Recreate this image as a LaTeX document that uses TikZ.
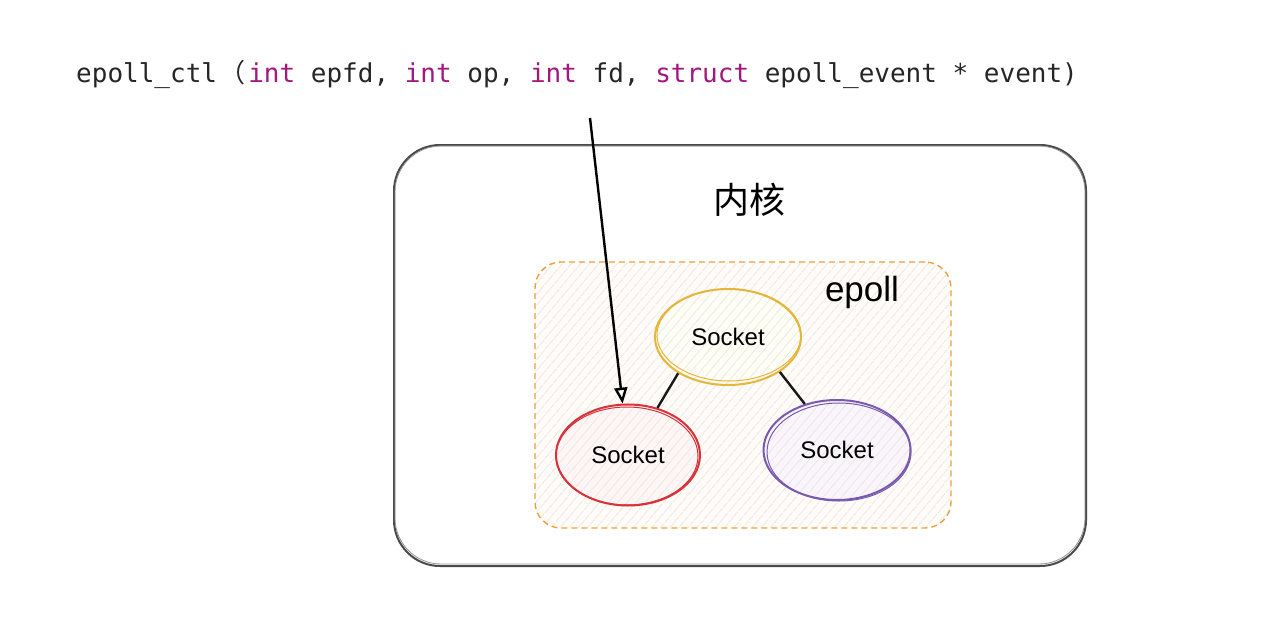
\documentclass[tikz,border=0pt]{standalone}
\usepackage{fontspec}
\setmainfont{Liberation Sans}
\newfontfamily\cjk{Noto Sans CJK SC}
\newfontfamily\codefont{DejaVu Sans Mono}
\usetikzlibrary{arrows.meta,patterns.meta,shapes.geometric}
\definecolor{kw}{HTML}{A3177F}
\definecolor{ylw}{HTML}{E6B53C}
\definecolor{rd}{HTML}{D8323A}
\definecolor{prp}{HTML}{7A5AAE}
\definecolor{org}{HTML}{E9A23F}
\definecolor{frame}{HTML}{4A4A4A}
\tikzset{
  hatch/.style={pattern={Lines[angle=50,distance=7pt,line width=0.6pt]},pattern color=black!10},
  sock/.style={ellipse,draw,line width=2pt,inner sep=0pt,font=\fontsize{24}{28}\selectfont,hatch},
  link/.style={line width=2.4pt,draw=black!90},
}
\begin{document}
\begin{tikzpicture}[x=1pt,y=-1pt]
\useasboundingbox[fill=white] (0,0) rectangle (1274,618);
% code line
\node[anchor=base west,inner sep=0pt,text=black!85,font=\codefont\fontsize{26}{30}\selectfont] (code) at (76,82)
 {epoll\_ctl\makebox[31.2pt][c]{\cjk （}\textcolor{kw}{int} epfd, \textcolor{kw}{int} op, \textcolor{kw}{int} fd, \textcolor{kw}{struct} epoll\_event * event)};
% kernel box
\node[draw=frame,line width=2pt,rounded corners=46pt,minimum width=692pt,minimum height=421pt] (kernel) at (740,355.5) {};
\draw[draw=frame!60,line width=0.8pt,rounded corners=46pt] (395,146) rectangle (1085,564);
\node[font=\cjk\fontsize{36}{40}\selectfont] (kt) at (749,200) {内核};
% epoll box
\node[draw=org,dashed,dash pattern=on 6pt off 4pt,line width=1.4pt,rounded corners=26pt,minimum width=416pt,minimum height=266pt,
      preaction={fill=orange!3},hatch] (epoll) at (743,395) {};
\node[font=\fontsize{35}{40}\selectfont] (et) at (862,292) {epoll};
% sockets
\node[sock,draw=ylw,preaction={fill=yellow!4},minimum width=146pt,minimum height=96pt] (s1) at (728,337) {Socket};
\node[sock,draw=rd,preaction={fill=red!4},minimum width=144pt,minimum height=101pt] (s2) at (628,455) {Socket};
\node[sock,draw=prp,preaction={fill=violet!4},minimum width=147pt,minimum height=100pt] (s3) at (837,450) {Socket};
% sketchy second strokes
\draw[ylw,line width=1pt] ([shift={(1,-2)}]s1.center) ellipse [x radius=72, y radius=46];
\draw[rd,line width=1pt] ([shift={(-1,1)}]s2.center) ellipse [x radius=71, y radius=49];
\draw[prp,line width=1pt] ([shift={(2,2)}]s3.center) ellipse [x radius=72, y radius=49];
% links
\draw[link] (s1.216) -- (s2.58);
\draw[link] (s1.326) -- (s3.125);
% arrow
\coordinate (src) at (590,118);
\draw[line width=2.4pt,-{Triangle[open,length=16pt,width=13pt,fill=white]}] (src) -- (s2.96);
\end{tikzpicture}
\end{document}
